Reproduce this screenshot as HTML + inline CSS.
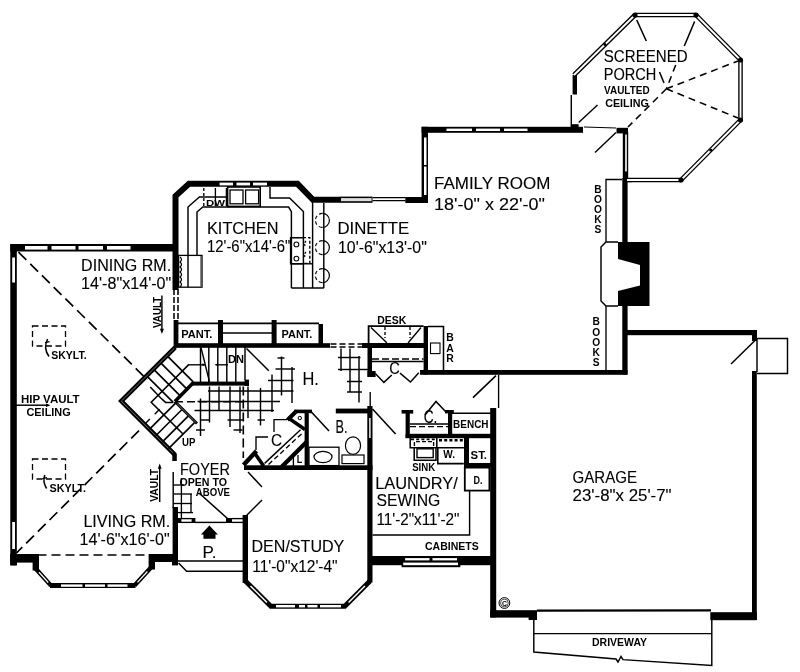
<!DOCTYPE html>
<html><head><meta charset="utf-8"><title>First Floor Plan</title>
<style>
html,body{margin:0;padding:0;background:#fff;}
body{width:800px;height:672px;overflow:hidden;}
svg{display:block;filter:grayscale(1);}
svg text{font-family:"Liberation Sans",sans-serif;fill:#000;}
</style></head><body>
<svg width="800" height="672" viewBox="0 0 800 672">
<rect x="0" y="0" width="800" height="672" fill="#fff"/>
<rect x="10.3" y="244" width="6.5" height="321" fill="#000"/>
<rect x="12.2" y="257.5" width="2.8" height="25.0" fill="#fff"/>
<rect x="12.2" y="522" width="2.8" height="27" fill="#fff"/>
<rect x="10.3" y="244" width="164.7" height="7.5" fill="#000"/>
<rect x="25" y="246" width="22.5" height="3.6" fill="#fff"/>
<rect x="51.5" y="246" width="24.0" height="3.6" fill="#fff"/>
<rect x="78.5" y="246" width="24.5" height="3.6" fill="#fff"/>
<rect x="107" y="246" width="23.5" height="3.6" fill="#fff"/>
<path d="M175.5,290 L175.5,196 L189,183.8 L297.5,183.8 L313,199.8 L340,199.8" fill="none" stroke="#000" stroke-width="6" stroke-linejoin="miter" stroke-linecap="butt"/>
<rect x="219.6" y="182.6" width="13.4" height="2.8" fill="#fff"/>
<rect x="236.5" y="182.6" width="13.5" height="2.8" fill="#fff"/>
<rect x="253" y="182.6" width="14" height="2.8" fill="#fff"/>
<rect x="339.7" y="196.6" width="32.8" height="6.2" fill="#000"/>
<rect x="341" y="198.1" width="30.6" height="3.1" fill="#ddd"/>
<line x1="372.5" y1="197.6" x2="405.5" y2="197.6" stroke="#000" stroke-width="1.45" stroke-linecap="butt"/>
<line x1="372.5" y1="200.6" x2="405.5" y2="200.6" stroke="#000" stroke-width="1.45" stroke-linecap="butt"/>
<rect x="405.3" y="197" width="22.7" height="6" fill="#000"/>
<rect x="421.6" y="126.8" width="6.4" height="76.2" fill="#000"/>
<rect x="424" y="137.5" width="2.5" height="27.5" fill="#fff"/>
<rect x="424" y="166.5" width="2.5" height="28.5" fill="#fff"/>
<rect x="421.6" y="126.8" width="161.4" height="6.0" fill="#000"/>
<rect x="572" y="124.2" width="6.6" height="2.8" fill="#000"/>
<rect x="627.5" y="178.6" width="4.5" height="3.6" fill="#000"/>
<rect x="446.5" y="128.6" width="25.5" height="2.4" fill="#fff"/>
<rect x="476" y="128.6" width="24" height="2.4" fill="#fff"/>
<rect x="504" y="128.6" width="23.5" height="2.4" fill="#fff"/>
<rect x="622.8" y="132" width="5.4" height="48" fill="#000"/>
<rect x="625.2" y="134.5" width="1.6" height="37.0" fill="#fff"/>
<rect x="616.5" y="127.8" width="11.5" height="5.6" fill="#000"/>
<rect x="622.3" y="178" width="5.3" height="64" fill="#000"/>
<rect x="622.3" y="306" width="5.3" height="68.5" fill="#000"/>
<polygon points="618,242 649.5,242 649.5,306 618,306 618,291 640,285.5 640,265 618,259" fill="#000"/>
<path d="M618,242 L606,242 L601,247 L601,301 L606,306 L618,306" fill="none" stroke="#000" stroke-width="1.45" stroke-linejoin="miter" stroke-linecap="butt"/>
<path d="M622,179.5 L606,179.5 L606,242" fill="none" stroke="#000" stroke-width="1.35" stroke-linejoin="miter" stroke-linecap="butt"/>
<line x1="606" y1="306" x2="606" y2="370" stroke="#000" stroke-width="1.35" stroke-linecap="butt"/>
<rect x="420" y="370" width="207.5" height="4.8" fill="#000"/>
<rect x="627" y="330" width="130" height="5.2" fill="#000"/>
<rect x="752" y="330" width="5" height="11" fill="#000"/>
<rect x="752" y="371" width="4.8" height="249" fill="#000"/>
<rect x="710.3" y="612.2" width="46.5" height="8.0" fill="#000"/>
<rect x="490.2" y="408" width="6.0" height="209.4" fill="#000"/>
<rect x="490.2" y="610.2" width="46.8" height="7.4" fill="#000"/>
<rect x="528.6" y="611.3" width="8.4" height="8.7" fill="#000"/>
<line x1="537" y1="610.6" x2="711" y2="610.4" stroke="#000" stroke-width="2.2" stroke-linecap="butt"/>
<path d="M533.8,620 L533.8,652 L616,659 L618,662 L621,656.5 L623,659.6 L711.8,665.5 L711.8,619" fill="none" stroke="#000" stroke-width="1.45" stroke-linejoin="miter" stroke-linecap="butt"/>
<line x1="533.8" y1="633.6" x2="711.8" y2="633.6" stroke="#000" stroke-width="1.45" stroke-linecap="butt"/>
<path d="M757,338.5 L787.5,338.5 L787.5,373.5 L757,373.5" fill="none" stroke="#000" stroke-width="1.45" stroke-linejoin="miter" stroke-linecap="butt"/>
<line x1="757" y1="338" x2="757" y2="372" stroke="#000" stroke-width="1.45" stroke-linecap="butt"/>
<line x1="731" y1="364" x2="755" y2="340.5" stroke="#000" stroke-width="1.55" stroke-linecap="butt"/>
<rect x="572.6" y="75" width="4.4" height="19.5" fill="#000"/>
<line x1="571.3" y1="95" x2="571.3" y2="127" stroke="#000" stroke-width="1.45" stroke-linecap="butt"/>
<line x1="574" y1="75" x2="635" y2="15" stroke="#000" stroke-width="4.6" stroke-linecap="butt"/>
<line x1="574" y1="75" x2="635" y2="15" stroke="#fff" stroke-width="1.9" stroke-linecap="butt"/>
<line x1="635" y1="15" x2="696" y2="15" stroke="#000" stroke-width="4.6" stroke-linecap="butt"/>
<line x1="635" y1="15" x2="696" y2="15" stroke="#fff" stroke-width="1.9" stroke-linecap="butt"/>
<line x1="696" y1="15" x2="740.5" y2="60" stroke="#000" stroke-width="4.6" stroke-linecap="butt"/>
<line x1="696" y1="15" x2="740.5" y2="60" stroke="#fff" stroke-width="1.9" stroke-linecap="butt"/>
<line x1="740.5" y1="60" x2="740.5" y2="120" stroke="#000" stroke-width="4.6" stroke-linecap="butt"/>
<line x1="740.5" y1="60" x2="740.5" y2="120" stroke="#fff" stroke-width="1.9" stroke-linecap="butt"/>
<line x1="740.5" y1="120" x2="681" y2="180" stroke="#000" stroke-width="4.6" stroke-linecap="butt"/>
<line x1="740.5" y1="120" x2="681" y2="180" stroke="#fff" stroke-width="1.9" stroke-linecap="butt"/>
<line x1="681" y1="180" x2="627" y2="180" stroke="#000" stroke-width="4.6" stroke-linecap="butt"/>
<line x1="681" y1="180" x2="627" y2="180" stroke="#fff" stroke-width="1.9" stroke-linecap="butt"/>
<circle cx="635" cy="15" r="2.6" fill="#000"/>
<circle cx="696" cy="15" r="2.6" fill="#000"/>
<circle cx="740.5" cy="60" r="2.6" fill="#000"/>
<circle cx="740.5" cy="120" r="2.6" fill="#000"/>
<circle cx="681" cy="180" r="2.6" fill="#000"/>
<circle cx="710.75" cy="150.0" r="1.6" fill="#000"/>
<circle cx="605" cy="44.5" r="1.5" fill="#000"/>
<line x1="694.6" y1="21.5" x2="684.3" y2="46" stroke="#000" stroke-width="1.55" stroke-linecap="butt"/>
<line x1="675.7" y1="65" x2="666.4" y2="88.8" stroke="#000" stroke-width="1.55" stroke-dasharray="7 5" stroke-linecap="butt"/>
<line x1="666.4" y1="88.8" x2="738" y2="61" stroke="#000" stroke-width="1.55" stroke-dasharray="7 5" stroke-linecap="butt"/>
<line x1="666.4" y1="88.8" x2="738" y2="118" stroke="#000" stroke-width="1.55" stroke-dasharray="7 5" stroke-linecap="butt"/>
<line x1="666.4" y1="88.8" x2="628" y2="127" stroke="#000" stroke-width="1.55" stroke-dasharray="7 5" stroke-linecap="butt"/>
<line x1="636.7" y1="20" x2="646.3" y2="41" stroke="#000" stroke-width="1.55" stroke-linecap="butt"/>
<line x1="659.5" y1="72" x2="664" y2="83" stroke="#000" stroke-width="1.55" stroke-linecap="butt"/>
<line x1="578.7" y1="122.5" x2="597.5" y2="105" stroke="#000" stroke-width="1.45" stroke-linecap="butt"/>
<line x1="595" y1="152.5" x2="616" y2="132.5" stroke="#000" stroke-width="1.45" stroke-linecap="butt"/>
<line x1="584" y1="127" x2="616" y2="128" stroke="#000" stroke-width="1.25" stroke-linecap="butt"/>
<rect x="173.6" y="320" width="4.8" height="27.5" fill="#000"/>
<rect x="174" y="343.2" width="156" height="4.6" fill="#000"/>
<line x1="176" y1="323.4" x2="319" y2="323.4" stroke="#000" stroke-width="1.8" stroke-linecap="butt"/>
<rect x="218" y="320" width="5" height="24" fill="#000"/>
<rect x="271.6" y="320" width="5.0" height="24" fill="#000"/>
<rect x="318.5" y="324" width="4.5" height="23" fill="#000"/>
<line x1="223" y1="333" x2="272" y2="333" stroke="#000" stroke-width="1.45" stroke-linecap="butt"/>
<line x1="174" y1="289" x2="174" y2="320.5" stroke="#000" stroke-width="1.55" stroke-dasharray="6 2" stroke-linecap="butt"/>
<line x1="178" y1="289" x2="178" y2="320.5" stroke="#000" stroke-width="1.55" stroke-dasharray="6 2" stroke-linecap="butt"/>
<line x1="330.5" y1="344" x2="362" y2="344" stroke="#000" stroke-width="1.45" stroke-dasharray="6 3" stroke-linecap="butt"/>
<line x1="330.5" y1="347" x2="362" y2="347" stroke="#000" stroke-width="1.45" stroke-dasharray="6 3" stroke-linecap="butt"/>
<rect x="362" y="343" width="66" height="5" fill="#000"/>
<rect x="423.6" y="326" width="4.4" height="48.5" fill="#000"/>
<rect x="367.5" y="343" width="4.5" height="34" fill="#000"/>
<rect x="367.5" y="371" width="8.1" height="6" fill="#000"/>
<path d="M368.6,343 L368.6,326.2 L423.6,326.2" fill="none" stroke="#000" stroke-width="1.8" stroke-linejoin="miter" stroke-linecap="butt"/>
<line x1="371" y1="327.5" x2="387" y2="343" stroke="#000" stroke-width="1.35" stroke-linecap="butt"/>
<line x1="421" y1="327.5" x2="408" y2="343" stroke="#000" stroke-width="1.35" stroke-linecap="butt"/>
<line x1="385" y1="327" x2="385" y2="338" stroke="#000" stroke-width="1.35" stroke-dasharray="3 2" stroke-linecap="butt"/>
<line x1="410" y1="327" x2="410" y2="338" stroke="#000" stroke-width="1.35" stroke-dasharray="3 2" stroke-linecap="butt"/>
<path d="M428,326.4 L443.5,326.4 L443.5,371" fill="none" stroke="#000" stroke-width="1.55" stroke-linejoin="miter" stroke-linecap="butt"/>
<rect x="430.5" y="343" width="9.5" height="10.6" fill="none" stroke="#000" stroke-width="1.1"/>
<line x1="372" y1="358.9" x2="423.6" y2="358.9" stroke="#000" stroke-width="1.45" stroke-dasharray="7 3" stroke-linecap="butt"/>
<line x1="372" y1="361.5" x2="423.6" y2="361.5" stroke="#000" stroke-width="1.35" stroke-linecap="butt"/>
<path d="M375.3,373.5 L383.9,382.4 L391.8,375" fill="none" stroke="#000" stroke-width="1.45" stroke-linejoin="miter" stroke-linecap="butt"/>
<path d="M400,373.1 L410.5,382.1 L418.8,372.8" fill="none" stroke="#000" stroke-width="1.45" stroke-linejoin="miter" stroke-linecap="butt"/>
<line x1="473" y1="397.6" x2="496" y2="375.6" stroke="#000" stroke-width="1.55" stroke-linecap="butt"/>
<line x1="498.6" y1="375" x2="498.6" y2="408" stroke="#000" stroke-width="1.35" stroke-linecap="butt"/>
<rect x="192" y="381.6" width="57" height="4.0" fill="#000"/>
<rect x="244.6" y="379.6" width="4.4" height="6.4" fill="#000"/>
<line x1="200.5" y1="347" x2="200.5" y2="382" stroke="#000" stroke-width="1.45" stroke-linecap="butt"/>
<line x1="208.8" y1="347" x2="208.8" y2="382" stroke="#000" stroke-width="1.45" stroke-linecap="butt"/>
<line x1="217.8" y1="347" x2="217.8" y2="382" stroke="#000" stroke-width="1.45" stroke-linecap="butt"/>
<line x1="226.8" y1="347" x2="226.8" y2="382" stroke="#000" stroke-width="1.45" stroke-linecap="butt"/>
<line x1="235.8" y1="347" x2="235.8" y2="382" stroke="#000" stroke-width="1.45" stroke-linecap="butt"/>
<line x1="245" y1="347" x2="245" y2="380" stroke="#000" stroke-width="1.45" stroke-linecap="butt"/>
<line x1="201" y1="347.5" x2="209.5" y2="382" stroke="#000" stroke-width="1.35" stroke-linecap="butt"/>
<line x1="189" y1="364.8" x2="205" y2="364.8" stroke="#000" stroke-width="1.35" stroke-linecap="butt"/>
<line x1="215.5" y1="364.8" x2="228" y2="364.8" stroke="#000" stroke-width="1.35" stroke-linecap="butt"/>
<polygon points="205.5,364.8 202.5,363.3 202.5,366.3" fill="#000"/>
<polygon points="215,364.8 218,363.3 218,366.3" fill="#000"/>
<line x1="246.5" y1="348.5" x2="268.8" y2="370.8" stroke="#000" stroke-width="1.55" stroke-linecap="butt"/>
<path d="M175.2,347.4 L121.3,401.1 L175,454.8" fill="none" stroke="#000" stroke-width="4.6" stroke-linejoin="miter" stroke-linecap="butt"/>
<path d="M174,348.6 L121.3,401.1 L173,452.8" fill="none" stroke="#777" stroke-width="0.9" stroke-linejoin="miter" stroke-linecap="butt"/>
<rect x="172.3" y="453.6" width="4.5" height="7.4" fill="#000"/>
<path d="M193,383 L174.9,401.4" fill="none" stroke="#000" stroke-width="3.6" stroke-linejoin="miter" stroke-linecap="butt"/>
<path d="M174.9,401.4 L197,423.6" fill="none" stroke="#000" stroke-width="2.8" stroke-linejoin="miter" stroke-linecap="butt"/>
<path d="M177,403.6 L196,422.6" fill="none" stroke="#999" stroke-width="0.7" stroke-linejoin="miter" stroke-linecap="butt"/>
<line x1="167.7" y1="356.3" x2="193.2" y2="381.8" stroke="#000" stroke-width="1.65" stroke-linecap="butt"/>
<line x1="160.95" y1="363.05" x2="186.45" y2="388.55" stroke="#000" stroke-width="1.65" stroke-linecap="butt"/>
<line x1="154.2" y1="369.8" x2="179.7" y2="395.3" stroke="#000" stroke-width="1.65" stroke-linecap="butt"/>
<line x1="147.45" y1="376.55" x2="172.95" y2="402.05" stroke="#000" stroke-width="1.65" stroke-linecap="butt"/>
<line x1="149.35000000000002" y1="429.35" x2="175.35000000000002" y2="403.35" stroke="#000" stroke-width="1.65" stroke-linecap="butt"/>
<line x1="155.75" y1="435.75" x2="181.75" y2="409.75" stroke="#000" stroke-width="1.65" stroke-linecap="butt"/>
<line x1="162.15000000000003" y1="442.15000000000003" x2="188.15000000000003" y2="416.15000000000003" stroke="#000" stroke-width="1.65" stroke-linecap="butt"/>
<line x1="168.55" y1="448.55" x2="194.55" y2="422.55" stroke="#000" stroke-width="1.65" stroke-linecap="butt"/>
<path d="M189,364.4 L151.2,402.3 L183,434" fill="none" stroke="#000" stroke-width="1.55" stroke-linejoin="miter" stroke-linecap="butt"/>
<path d="M150.2,387 L161,398.2 L165.6,402.4 L173.5,402.4" fill="none" stroke="#000" stroke-width="1.55" stroke-linejoin="miter" stroke-linecap="butt"/>
<line x1="145.4" y1="423.6" x2="149.8" y2="419.1" stroke="#000" stroke-width="1.45" stroke-linecap="butt"/>
<line x1="154.7" y1="414.2" x2="159.6" y2="409.3" stroke="#000" stroke-width="1.45" stroke-linecap="butt"/>
<line x1="277.5" y1="358" x2="284.5" y2="358" stroke="#000" stroke-width="1.45" stroke-linecap="butt"/>
<line x1="275.5" y1="369" x2="295" y2="369" stroke="#000" stroke-width="1.45" stroke-linecap="butt"/>
<line x1="268" y1="380.5" x2="293.5" y2="380.5" stroke="#000" stroke-width="1.45" stroke-linecap="butt"/>
<line x1="208" y1="391" x2="293.5" y2="391" stroke="#000" stroke-width="1.45" stroke-linecap="butt"/>
<line x1="197.5" y1="401.5" x2="280" y2="401.5" stroke="#000" stroke-width="1.45" stroke-linecap="butt"/>
<line x1="194.5" y1="410.5" x2="274" y2="410.5" stroke="#000" stroke-width="1.45" stroke-linecap="butt"/>
<line x1="200.5" y1="420" x2="209.5" y2="420" stroke="#000" stroke-width="1.45" stroke-linecap="butt"/>
<line x1="227.5" y1="420" x2="244" y2="420" stroke="#000" stroke-width="1.45" stroke-linecap="butt"/>
<line x1="257.5" y1="420" x2="265" y2="420" stroke="#000" stroke-width="1.45" stroke-linecap="butt"/>
<line x1="196" y1="430" x2="205" y2="430" stroke="#000" stroke-width="1.45" stroke-linecap="butt"/>
<line x1="233.5" y1="430" x2="242.5" y2="430" stroke="#000" stroke-width="1.45" stroke-linecap="butt"/>
<line x1="200.5" y1="398.5" x2="200.5" y2="436" stroke="#000" stroke-width="1.45" stroke-linecap="butt"/>
<line x1="209.5" y1="386.5" x2="209.5" y2="422.5" stroke="#000" stroke-width="1.45" stroke-linecap="butt"/>
<line x1="219" y1="386.5" x2="219" y2="410.5" stroke="#000" stroke-width="1.45" stroke-linecap="butt"/>
<line x1="230" y1="386.5" x2="230" y2="427" stroke="#000" stroke-width="1.45" stroke-linecap="butt"/>
<line x1="240" y1="386.5" x2="240" y2="433" stroke="#000" stroke-width="1.45" stroke-linecap="butt"/>
<line x1="248" y1="386.5" x2="248" y2="418" stroke="#000" stroke-width="1.45" stroke-linecap="butt"/>
<line x1="260.5" y1="388" x2="260.5" y2="425.5" stroke="#000" stroke-width="1.45" stroke-linecap="butt"/>
<line x1="272" y1="374.5" x2="272" y2="412" stroke="#000" stroke-width="1.45" stroke-linecap="butt"/>
<line x1="281.5" y1="356.5" x2="281.5" y2="395.5" stroke="#000" stroke-width="1.45" stroke-linecap="butt"/>
<line x1="292" y1="367" x2="292" y2="403" stroke="#000" stroke-width="1.45" stroke-linecap="butt"/>
<line x1="338" y1="357.5" x2="360.5" y2="357.5" stroke="#000" stroke-width="1.45" stroke-linecap="butt"/>
<line x1="338" y1="369.5" x2="368" y2="369.5" stroke="#000" stroke-width="1.45" stroke-linecap="butt"/>
<line x1="347" y1="381.5" x2="362" y2="381.5" stroke="#000" stroke-width="1.45" stroke-linecap="butt"/>
<line x1="347" y1="392" x2="362" y2="392" stroke="#000" stroke-width="1.45" stroke-linecap="butt"/>
<line x1="341" y1="348.5" x2="341" y2="371" stroke="#000" stroke-width="1.45" stroke-linecap="butt"/>
<line x1="350" y1="348.5" x2="350" y2="392" stroke="#000" stroke-width="1.45" stroke-linecap="butt"/>
<line x1="359" y1="356" x2="359" y2="402.5" stroke="#000" stroke-width="1.45" stroke-linecap="butt"/>
<line x1="175" y1="401.8" x2="243" y2="401.8" stroke="#000" stroke-width="1.55" stroke-dasharray="8 4" stroke-linecap="butt"/>
<line x1="243.3" y1="386.5" x2="243.3" y2="458" stroke="#000" stroke-width="1.6" stroke-dasharray="9 4" stroke-linecap="butt"/>
<rect x="244" y="465.3" width="128.5" height="4.7" fill="#000"/>
<rect x="367.3" y="406" width="5.2" height="176.5" fill="#000"/>
<rect x="369.2" y="418" width="1.4" height="20" fill="#fff"/>
<rect x="335.8" y="408.6" width="35.2" height="4.8" fill="#000"/>
<line x1="370.2" y1="392" x2="370.2" y2="410" stroke="#000" stroke-width="1.35" stroke-linecap="butt"/>
<line x1="310" y1="410.5" x2="329" y2="431" stroke="#000" stroke-width="1.55" stroke-linecap="butt"/>
<rect x="304.6" y="410" width="4.2" height="56" fill="#000"/>
<rect x="294.3" y="409.6" width="17.7" height="3.6" fill="#000"/>
<line x1="296.5" y1="411" x2="287.5" y2="420" stroke="#000" stroke-width="4" stroke-linecap="butt"/>
<line x1="288.4" y1="418" x2="305" y2="429.5" stroke="#000" stroke-width="3.4" stroke-linecap="butt"/>
<circle cx="299.8" cy="418" r="1.7" fill="#fff" stroke="#000" stroke-width="1"/>
<line x1="264.6" y1="463.4" x2="300.5" y2="429.8" stroke="#000" stroke-width="1.45" stroke-linecap="butt"/>
<line x1="268.5" y1="464.5" x2="302" y2="433.5" stroke="#000" stroke-width="1.35" stroke-dasharray="5 3" stroke-linecap="butt"/>
<line x1="281.5" y1="467" x2="306.5" y2="442" stroke="#000" stroke-width="4.2" stroke-linecap="butt"/>
<line x1="243.5" y1="465" x2="256.5" y2="451" stroke="#000" stroke-width="4.4" stroke-linecap="butt"/>
<line x1="254.2" y1="452.5" x2="263.6" y2="466" stroke="#000" stroke-width="3.6" stroke-linecap="butt"/>
<path d="M287,419.6 L274,419.6 L274,432" fill="none" stroke="#000" stroke-width="1.35" stroke-linejoin="miter" stroke-linecap="butt"/>
<path d="M268,437 L256,437 L256,450" fill="none" stroke="#000" stroke-width="1.35" stroke-linejoin="miter" stroke-linecap="butt"/>
<line x1="293.4" y1="455" x2="293.4" y2="466" stroke="#000" stroke-width="1.35" stroke-linecap="butt"/>
<rect x="309" y="447.2" width="30" height="18.4" fill="none" stroke="#000" stroke-width="1.3"/>
<ellipse cx="323" cy="457" rx="9" ry="5.6" fill="none" stroke="#000" stroke-width="1.2"/>
<rect x="342" y="455" width="22" height="8.6" fill="none" stroke="#000" stroke-width="1.2"/>
<ellipse cx="353" cy="445.6" rx="7.6" ry="8.8" fill="#fff" stroke="#000" stroke-width="1.2"/>
<line x1="372.5" y1="409" x2="395.6" y2="434" stroke="#000" stroke-width="1.55" stroke-linecap="butt"/>
<rect x="405.6" y="410" width="4.2" height="28" fill="#000"/>
<rect x="401.6" y="410" width="11.6" height="3.6" fill="#000"/>
<rect x="405.6" y="433.8" width="85.4" height="4.4" fill="#000"/>
<rect x="448" y="410" width="4.2" height="28" fill="#000"/>
<rect x="445" y="410" width="8.8" height="3.4" fill="#000"/>
<line x1="452" y1="413.2" x2="491" y2="413.2" stroke="#000" stroke-width="1.55" stroke-linecap="butt"/>
<path d="M425,415 L436,401.5 L445.5,411.5" fill="none" stroke="#000" stroke-width="1.55" stroke-linejoin="miter" stroke-linecap="butt"/>
<line x1="410" y1="424" x2="448" y2="424" stroke="#000" stroke-width="1.35" stroke-linecap="butt"/>
<line x1="410" y1="426.6" x2="448" y2="426.6" stroke="#000" stroke-width="1.45" stroke-dasharray="6 3" stroke-linecap="butt"/>
<path d="M410.2,438 L410.2,447.8 L463.9,447.8" fill="none" stroke="#000" stroke-width="1.5" stroke-linejoin="miter" stroke-linecap="butt"/>
<line x1="436.8" y1="438" x2="436.8" y2="447.8" stroke="#000" stroke-width="1.55" stroke-linecap="butt"/>
<path d="M414.4,446 L414.4,441.6 L433.6,441.6 L433.6,446" fill="none" stroke="#000" stroke-width="1.35" stroke-linejoin="miter" stroke-linecap="butt" stroke-dasharray="4 2"/>
<path d="M414.2,447.8 L414.2,460.2 L436,460.2 L436,447.8" fill="none" stroke="#000" stroke-width="1.55" stroke-linejoin="miter" stroke-linecap="butt"/>
<rect x="417" y="448.8" width="16.2" height="8.8" fill="none" stroke="#000" stroke-width="1.4"/>
<path d="M437.8,447.8 L437.8,463.6 L463.8,463.6" fill="none" stroke="#000" stroke-width="1.6" stroke-linejoin="miter" stroke-linecap="butt"/>
<line x1="439" y1="440.2" x2="464" y2="440.2" stroke="#000" stroke-width="2.4" stroke-dasharray="3 2.2" stroke-linecap="butt"/>
<line x1="411" y1="439.4" x2="436" y2="439.4" stroke="#000" stroke-width="1.6" stroke-dasharray="3 2.2" stroke-linecap="butt"/>
<rect x="464" y="438" width="5" height="29" fill="#000"/>
<rect x="464" y="463" width="27" height="4.4" fill="#000"/>
<rect x="464.8" y="467.6" width="24.6" height="23" fill="none" stroke="#000" stroke-width="1.8"/>
<path d="M469.6,491 L469.6,535 L372.5,535" fill="none" stroke="#000" stroke-width="1.45" stroke-linejoin="miter" stroke-linecap="butt"/>
<rect x="372" y="556" width="119" height="9.2" fill="#000"/>
<rect x="401.6" y="556" width="58.8" height="11.2" fill="#000"/>
<rect x="405.1" y="558.1" width="24.4" height="2.3" fill="#fff"/>
<rect x="432.5" y="558.1" width="24.5" height="2.3" fill="#fff"/>
<rect x="403.2" y="562.6" width="54.8" height="2.6" fill="#fff"/>
<rect x="242.6" y="515" width="5.4" height="68" fill="#000"/>
<path d="M245.4,581 L270.8,606.2 L344.8,606.2 L370,581" fill="none" stroke="#000" stroke-width="5" stroke-linejoin="miter" stroke-linecap="butt"/>
<rect x="276" y="605" width="19" height="2.4" fill="#fff"/>
<rect x="299" y="605" width="6" height="2.4" fill="#fff"/>
<rect x="307.5" y="605" width="10.0" height="2.4" fill="#fff"/>
<rect x="320" y="605" width="21" height="2.4" fill="#fff"/>
<line x1="250.48000000000002" y1="586.04" x2="266.99" y2="602.4200000000001" stroke="#fff" stroke-width="1.5" stroke-linecap="butt"/>
<line x1="348.58" y1="602.4200000000001" x2="364.96" y2="586.04" stroke="#fff" stroke-width="1.5" stroke-linecap="butt"/>
<line x1="248" y1="472" x2="262" y2="487" stroke="#000" stroke-width="1.45" stroke-linecap="butt"/>
<line x1="262" y1="500" x2="246" y2="516" stroke="#000" stroke-width="1.45" stroke-linecap="butt"/>
<line x1="173.2" y1="472" x2="173.2" y2="508" stroke="#000" stroke-width="1.45" stroke-linecap="butt"/>
<rect x="172.6" y="507" width="5.4" height="58" fill="#000"/>
<rect x="178" y="518" width="3.4" height="5" fill="#000"/>
<rect x="191.6" y="518" width="3.8" height="5" fill="#000"/>
<rect x="226" y="518" width="6" height="5" fill="#000"/>
<line x1="181" y1="518.6" x2="192" y2="518.6" stroke="#000" stroke-width="1.35" stroke-linecap="butt"/>
<line x1="181" y1="522.4" x2="192" y2="522.4" stroke="#000" stroke-width="1.35" stroke-linecap="butt"/>
<line x1="232" y1="518.6" x2="243" y2="518.6" stroke="#000" stroke-width="1.35" stroke-linecap="butt"/>
<line x1="232" y1="522.4" x2="243" y2="522.4" stroke="#000" stroke-width="1.35" stroke-linecap="butt"/>
<line x1="195" y1="522.4" x2="226" y2="522.4" stroke="#000" stroke-width="1.45" stroke-linecap="butt"/>
<line x1="199" y1="493" x2="228" y2="519" stroke="#000" stroke-width="1.55" stroke-linecap="butt"/>
<polygon points="209.4,525.5 217.9,534.4 215.5,534.4 215.5,538.8 203.4,538.8 203.4,534.4 200.9,534.4" fill="#000"/>
<line x1="181.4" y1="478" x2="181.4" y2="518" stroke="#000" stroke-width="1.35" stroke-linecap="butt"/>
<line x1="191" y1="494" x2="191" y2="512" stroke="#000" stroke-width="1.35" stroke-linecap="butt"/>
<line x1="173.5" y1="485" x2="184" y2="485" stroke="#000" stroke-width="1.35" stroke-linecap="butt"/>
<line x1="173.5" y1="494" x2="192" y2="494" stroke="#000" stroke-width="1.35" stroke-linecap="butt"/>
<line x1="173.5" y1="503.5" x2="192" y2="503.5" stroke="#000" stroke-width="1.35" stroke-linecap="butt"/>
<line x1="178" y1="512.6" x2="193" y2="512.6" stroke="#000" stroke-width="1.35" stroke-linecap="butt"/>
<line x1="178" y1="560.9" x2="243" y2="560.9" stroke="#000" stroke-width="1.55" stroke-linecap="butt"/>
<path d="M178.6,563 L186.6,571.2 L243,571.2" fill="none" stroke="#000" stroke-width="1.45" stroke-linejoin="miter" stroke-linecap="butt"/>
<rect x="10.3" y="554" width="27.2" height="8.6" fill="#000"/>
<rect x="10.3" y="554" width="6.5" height="11.6" fill="#000"/>
<rect x="32.6" y="554" width="6.4" height="16.5" fill="#000"/>
<rect x="149" y="554" width="29" height="8" fill="#000"/>
<rect x="172" y="554" width="6" height="11.4" fill="#000"/>
<rect x="148.6" y="554" width="6.4" height="15.5" fill="#000"/>
<line x1="35.6" y1="568.5" x2="51" y2="585.6" stroke="#000" stroke-width="4.4" stroke-linecap="butt"/>
<line x1="50" y1="585.6" x2="135.5" y2="585.6" stroke="#000" stroke-width="5" stroke-linecap="butt"/>
<line x1="134.5" y1="585.6" x2="151" y2="567.5" stroke="#000" stroke-width="4.4" stroke-linecap="butt"/>
<rect x="61" y="584.4" width="21.5" height="2.4" fill="#fff"/>
<rect x="85" y="584.4" width="20" height="2.4" fill="#fff"/>
<rect x="107.5" y="584.4" width="20.0" height="2.4" fill="#fff"/>
<line x1="38.988" y1="572.2620000000001" x2="48.228" y2="582.522" stroke="#fff" stroke-width="1.2" stroke-linecap="butt"/>
<line x1="137.47" y1="582.342" x2="147.37" y2="571.482" stroke="#fff" stroke-width="1.2" stroke-linecap="butt"/>
<line x1="37.5" y1="555" x2="149" y2="555" stroke="#000" stroke-width="1.45" stroke-dasharray="9 5" stroke-linecap="butt"/>
<path d="M188,255.5 L188,207 L199.4,197 L227.5,197" fill="none" stroke="#000" stroke-width="1.45" stroke-linejoin="miter" stroke-linecap="butt"/>
<path d="M197,255.5 L197,212 L202.8,207 L288.6,207 L291.4,211.6 L291.4,288" fill="none" stroke="#000" stroke-width="1.45" stroke-linejoin="miter" stroke-linecap="butt"/>
<path d="M270,187 L270,198 L289.6,198 L303.4,211.6 L303.4,288" fill="none" stroke="#000" stroke-width="1.45" stroke-linejoin="miter" stroke-linecap="butt"/>
<line x1="312.6" y1="202" x2="312.6" y2="288" stroke="#000" stroke-width="1.45" stroke-linecap="butt"/>
<line x1="323.8" y1="203" x2="323.8" y2="288" stroke="#000" stroke-width="1.45" stroke-linecap="butt"/>
<line x1="291.4" y1="288" x2="323.8" y2="288" stroke="#000" stroke-width="1.45" stroke-linecap="butt"/>
<line x1="203.8" y1="188" x2="203.8" y2="206" stroke="#000" stroke-width="1.35" stroke-dasharray="3 2" stroke-linecap="butt"/>
<line x1="215.4" y1="188" x2="215.4" y2="206" stroke="#000" stroke-width="1.35" stroke-linecap="butt"/>
<line x1="226.4" y1="188" x2="226.4" y2="206" stroke="#000" stroke-width="1.35" stroke-linecap="butt"/>
<rect x="227.6" y="187" width="32.6" height="19.4" fill="none" stroke="#000" stroke-width="1.6"/>
<rect x="230" y="190" width="13" height="13.8" fill="none" stroke="#000" stroke-width="1.3"/>
<rect x="245.6" y="190" width="13" height="13.8" fill="none" stroke="#000" stroke-width="1.3"/>
<rect x="178.6" y="255.4" width="23.4" height="31.8" fill="none" stroke="#000" stroke-width="1.3"/>
<line x1="188" y1="255.4" x2="188" y2="287" stroke="#000" stroke-width="1.45" stroke-linecap="butt"/>
<line x1="201.4" y1="256" x2="201.4" y2="287" stroke="#555" stroke-width="2.2" stroke-linecap="butt"/>
<path d="M180,257 q3,2.5 0,5 q3,2.5 0,5 q3,2.5 0,5 q3,2.5 0,5 q3,2.5 0,5 q3,2.5 0,5" fill="none" stroke="#000" stroke-width="1.25" stroke-linejoin="miter" stroke-linecap="butt"/>
<path d="M303,237.8 L290.6,237.8 L290.6,263.8 L303,263.8" fill="none" stroke="#000" stroke-width="1.45" stroke-linejoin="miter" stroke-linecap="butt"/>
<path d="M303,237.6 L309.8,237.6 L309.8,263.4 L303,263.4" fill="none" stroke="#000" stroke-width="1.35" stroke-linejoin="miter" stroke-linecap="butt" stroke-dasharray="3 2"/>
<circle cx="296.4" cy="244.4" r="2.4" fill="none" stroke="#000" stroke-width="1.1"/>
<circle cx="296.4" cy="258.6" r="2.4" fill="none" stroke="#000" stroke-width="1.1"/>
<path d="M306,241 q-3,3 0,6 M306,252 q-3,3 0,6" fill="none" stroke="#000" stroke-width="1.25" stroke-linejoin="miter" stroke-linecap="butt" stroke-dasharray="2 1.5"/>
<line x1="291.4" y1="263.8" x2="312.6" y2="263.8" stroke="#000" stroke-width="1.35" stroke-linecap="butt"/>
<path d="M322.4,213.4 a7,7 0 0 1 0,14" fill="none" stroke="#000" stroke-width="1.2"/>
<path d="M322.4,213.4 a7,7 0 0 0 0,14" fill="none" stroke="#000" stroke-width="1.1" stroke-dasharray="3.5 2.5"/>
<path d="M322.4,240.6 a7,7 0 0 1 0,14" fill="none" stroke="#000" stroke-width="1.2"/>
<path d="M322.4,240.6 a7,7 0 0 0 0,14" fill="none" stroke="#000" stroke-width="1.1" stroke-dasharray="3.5 2.5"/>
<path d="M322.4,268.6 a7,7 0 0 1 0,14" fill="none" stroke="#000" stroke-width="1.2"/>
<path d="M322.4,268.6 a7,7 0 0 0 0,14" fill="none" stroke="#000" stroke-width="1.1" stroke-dasharray="3.5 2.5"/>
<line x1="18.5" y1="252.2" x2="147.5" y2="380" stroke="#000" stroke-width="1.7" stroke-dasharray="11 5.5" stroke-linecap="butt"/>
<line x1="139" y1="430.6" x2="16.5" y2="553" stroke="#000" stroke-width="1.7" stroke-dasharray="11 5.5" stroke-linecap="butt"/>
<rect x="32.5" y="326" width="33" height="20" fill="none" stroke="#000" stroke-width="1.3" stroke-dasharray="6 3.5"/>
<rect x="32.5" y="459" width="33" height="20" fill="none" stroke="#000" stroke-width="1.3" stroke-dasharray="6 3.5"/>
<path d="M47.6,339 Q43,348 49,356.5" fill="none" stroke="#000" stroke-width="1.55" stroke-linejoin="miter" stroke-linecap="butt"/>
<line x1="45" y1="342.6" x2="49.6" y2="341.6" stroke="#000" stroke-width="1.45" stroke-linecap="butt"/>
<path d="M44.8,475 Q42.4,482 46.6,488.5" fill="none" stroke="#000" stroke-width="1.55" stroke-linejoin="miter" stroke-linecap="butt"/>
<line x1="42.4" y1="478.6" x2="47" y2="477.6" stroke="#000" stroke-width="1.45" stroke-linecap="butt"/>
<line x1="16" y1="405.2" x2="48" y2="405.2" stroke="#000" stroke-width="1.45" stroke-linecap="butt"/>
<polygon points="50.5,405.2 46,403.4 46,407" fill="#000"/>
<line x1="161.9" y1="295.5" x2="161.9" y2="329.5" stroke="#000" stroke-width="1.45" stroke-linecap="butt"/>
<polygon points="161.9,334 159.9,328.8 163.9,328.8" fill="#000"/>
<line x1="159.7" y1="468" x2="159.7" y2="502" stroke="#000" stroke-width="1.45" stroke-linecap="butt"/>
<polygon points="159.7,463.6 157.8,468.8 161.6,468.8" fill="#000"/>
<text x="81.1" y="271.3" font-size="16.2" stroke="#000" stroke-width="0.12" textLength="90.0" lengthAdjust="spacingAndGlyphs" text-anchor="start" stroke="#000" stroke-width="0.3">DINING RM.</text>
<text x="81.1" y="289" font-size="16.8" stroke="#000" stroke-width="0.12" textLength="90.2" lengthAdjust="spacingAndGlyphs" text-anchor="start" stroke="#000" stroke-width="0.3">14'-8&quot;x14'-0&quot;</text>
<text x="207" y="233.5" font-size="15.6" stroke="#000" stroke-width="0.12" textLength="71.5" lengthAdjust="spacingAndGlyphs" text-anchor="start" stroke="#000" stroke-width="0.3">KITCHEN</text>
<text x="207" y="252.3" font-size="16.8" stroke="#000" stroke-width="0.12" textLength="83.3" lengthAdjust="spacingAndGlyphs" text-anchor="start" stroke="#000" stroke-width="0.3">12'-6&quot;x14'-6&quot;</text>
<text x="337.4" y="234" font-size="15.8" stroke="#000" stroke-width="0.12" textLength="71.8" lengthAdjust="spacingAndGlyphs" text-anchor="start" stroke="#000" stroke-width="0.3">DINETTE</text>
<text x="338" y="252.6" font-size="16.6" stroke="#000" stroke-width="0.12" textLength="88.8" lengthAdjust="spacingAndGlyphs" text-anchor="start" stroke="#000" stroke-width="0.3">10'-6&quot;x13'-0&quot;</text>
<text x="434" y="189.2" font-size="15.8" stroke="#000" stroke-width="0.12" textLength="116.3" lengthAdjust="spacingAndGlyphs" text-anchor="start" stroke="#000" stroke-width="0.4">FAMILY ROOM</text>
<text x="434" y="210" font-size="16.8" stroke="#000" stroke-width="0.12" textLength="110.8" lengthAdjust="spacingAndGlyphs" text-anchor="start" stroke="#000" stroke-width="0.4">18'-0&quot; x 22'-0&quot;</text>
<text x="603.8" y="62.2" font-size="17" stroke="#000" stroke-width="0.12" textLength="83.8" lengthAdjust="spacingAndGlyphs" text-anchor="start" stroke="#000" stroke-width="0.4">SCREENED</text>
<text x="603.8" y="79.7" font-size="17" stroke="#000" stroke-width="0.12" textLength="52.6" lengthAdjust="spacingAndGlyphs" text-anchor="start" stroke="#000" stroke-width="0.4">PORCH</text>
<text x="604.1" y="94.2" font-size="10.9" font-weight="bold" textLength="45.5" lengthAdjust="spacingAndGlyphs" text-anchor="start">VAULTED</text>
<text x="605.2" y="106.6" font-size="10.9" font-weight="bold" textLength="43.6" lengthAdjust="spacingAndGlyphs" text-anchor="start">CEILING</text>
<text x="572.6" y="483.2" font-size="16" stroke="#000" stroke-width="0.12" textLength="64.4" lengthAdjust="spacingAndGlyphs" text-anchor="start" stroke="#000" stroke-width="0.4">GARAGE</text>
<text x="572.6" y="500.8" font-size="16.6" stroke="#000" stroke-width="0.12" textLength="99.0" lengthAdjust="spacingAndGlyphs" text-anchor="start" stroke="#000" stroke-width="0.4">23'-8&quot;x 25'-7&quot;</text>
<text x="375.2" y="489.2" font-size="16.2" stroke="#000" stroke-width="0.12" textLength="82.6" lengthAdjust="spacingAndGlyphs" text-anchor="start" stroke="#000" stroke-width="0.4">LAUNDRY/</text>
<text x="376.4" y="505.8" font-size="16.2" stroke="#000" stroke-width="0.12" textLength="63.9" lengthAdjust="spacingAndGlyphs" text-anchor="start" stroke="#000" stroke-width="0.4">SEWING</text>
<text x="376.4" y="525.4" font-size="16.8" stroke="#000" stroke-width="0.12" textLength="83.1" lengthAdjust="spacingAndGlyphs" text-anchor="start" stroke="#000" stroke-width="0.4">11'-2&quot;x11'-2&quot;</text>
<text x="251.5" y="551.8" font-size="16.2" stroke="#000" stroke-width="0.12" textLength="92.8" lengthAdjust="spacingAndGlyphs" text-anchor="start" stroke="#000" stroke-width="0.4">DEN/STUDY</text>
<text x="252.2" y="571.8" font-size="16.8" stroke="#000" stroke-width="0.12" textLength="85.4" lengthAdjust="spacingAndGlyphs" text-anchor="start" stroke="#000" stroke-width="0.35">11'-0&quot;x12'-4&quot;</text>
<text x="83.4" y="526.6" font-size="16.3" stroke="#000" stroke-width="0.12" textLength="86.8" lengthAdjust="spacingAndGlyphs" text-anchor="start" stroke="#000" stroke-width="0.35">LIVING RM.</text>
<text x="79.6" y="545.4" font-size="16.8" stroke="#000" stroke-width="0.12" textLength="90.0" lengthAdjust="spacingAndGlyphs" text-anchor="start" stroke="#000" stroke-width="0.35">14'-6&quot;x16'-0&quot;</text>
<text x="180" y="475.4" font-size="17" stroke="#000" stroke-width="0.12" textLength="50" lengthAdjust="spacingAndGlyphs" text-anchor="start" stroke="#000" stroke-width="0.7">FOYER</text>
<text x="179.4" y="485.8" font-size="10.6" font-weight="bold" textLength="47.6" lengthAdjust="spacingAndGlyphs" text-anchor="start">OPEN TO</text>
<text x="195.8" y="496.2" font-size="10.6" font-weight="bold" textLength="34.2" lengthAdjust="spacingAndGlyphs" text-anchor="start">ABOVE</text>
<text x="202.6" y="558.4" font-size="17" stroke="#000" stroke-width="0.12" text-anchor="start" stroke="#000" stroke-width="0.4">P.</text>
<text x="302.4" y="385.2" font-size="17.5" stroke="#000" stroke-width="0.12" textLength="16.4" lengthAdjust="spacingAndGlyphs" text-anchor="start" stroke="#000" stroke-width="0.8">H.</text>
<text x="335.6" y="433.4" font-size="17.5" stroke="#000" stroke-width="0.12" textLength="12.0" lengthAdjust="spacingAndGlyphs" text-anchor="start" stroke="#000" stroke-width="0.7">B.</text>
<text x="271" y="445.8" font-size="17" stroke="#000" stroke-width="0.12" textLength="11.1" lengthAdjust="spacingAndGlyphs" text-anchor="start" stroke="#000" stroke-width="0.35">C</text>
<text x="389.2" y="374.3" font-size="17" stroke="#000" stroke-width="0.12" textLength="10.6" lengthAdjust="spacingAndGlyphs" text-anchor="start" stroke="#000" stroke-width="0.35">C</text>
<text x="423.8" y="422.6" font-size="17.5" stroke="#000" stroke-width="0.12" textLength="13.6" lengthAdjust="spacingAndGlyphs" text-anchor="start" stroke="#000" stroke-width="0.35">C.</text>
<text x="296.7" y="462.6" font-size="10.4" font-weight="bold" textLength="5.5" lengthAdjust="spacingAndGlyphs" text-anchor="start">L</text>
<text x="181.2" y="337.8" font-size="10.8" font-weight="bold" textLength="31.2" lengthAdjust="spacingAndGlyphs" text-anchor="start">PANT.</text>
<text x="281.6" y="337.8" font-size="10.8" font-weight="bold" textLength="30.8" lengthAdjust="spacingAndGlyphs" text-anchor="start">PANT.</text>
<text x="228" y="362.8" font-size="10.8" font-weight="bold" textLength="16" lengthAdjust="spacingAndGlyphs" text-anchor="start">DN</text>
<text x="182" y="446" font-size="11.2" font-weight="bold" textLength="13.4" lengthAdjust="spacingAndGlyphs" text-anchor="start">UP</text>
<text x="206" y="206" font-size="8.8" font-weight="bold" textLength="19" lengthAdjust="spacingAndGlyphs" text-anchor="start">DW</text>
<text x="377.2" y="323.9" font-size="10.8" font-weight="bold" textLength="29.0" lengthAdjust="spacingAndGlyphs" text-anchor="start">DESK</text>
<text x="450" y="341.4" font-size="10.4" font-weight="bold" text-anchor="middle">B</text>
<text x="450" y="352" font-size="10.4" font-weight="bold" text-anchor="middle">A</text>
<text x="450" y="362" font-size="10.4" font-weight="bold" text-anchor="middle">R</text>
<text x="598" y="192.5" font-size="10.2" font-weight="bold" text-anchor="middle">B</text>
<text x="598" y="202.8" font-size="10.2" font-weight="bold" text-anchor="middle">O</text>
<text x="598" y="213" font-size="10.2" font-weight="bold" text-anchor="middle">O</text>
<text x="598" y="223.3" font-size="10.2" font-weight="bold" text-anchor="middle">K</text>
<text x="598" y="233.1" font-size="10.2" font-weight="bold" text-anchor="middle">S</text>
<text x="596.2" y="324.5" font-size="10.2" font-weight="bold" text-anchor="middle">B</text>
<text x="596.2" y="336" font-size="10.2" font-weight="bold" text-anchor="middle">O</text>
<text x="596.2" y="346" font-size="10.2" font-weight="bold" text-anchor="middle">O</text>
<text x="596.2" y="356" font-size="10.2" font-weight="bold" text-anchor="middle">K</text>
<text x="596.2" y="366" font-size="10.2" font-weight="bold" text-anchor="middle">S</text>
<text x="453.1" y="427.8" font-size="11.4" font-weight="bold" textLength="35.5" lengthAdjust="spacingAndGlyphs" text-anchor="start">BENCH</text>
<text x="443.3" y="458.4" font-size="10.2" font-weight="bold" textLength="11.7" lengthAdjust="spacingAndGlyphs" text-anchor="start">W.</text>
<text x="470.6" y="459" font-size="11" font-weight="bold" textLength="16.4" lengthAdjust="spacingAndGlyphs" text-anchor="start">ST.</text>
<text x="473.6" y="483.8" font-size="10.6" font-weight="bold" textLength="9.0" lengthAdjust="spacingAndGlyphs" text-anchor="start">D.</text>
<text x="412.2" y="471" font-size="10.2" font-weight="bold" textLength="23.0" lengthAdjust="spacingAndGlyphs" text-anchor="start">SINK</text>
<text x="425" y="549.7" font-size="11.5" font-weight="bold" textLength="53.8" lengthAdjust="spacingAndGlyphs" text-anchor="start">CABINETS</text>
<text x="592" y="645.5" font-size="10.3" font-weight="bold" textLength="55" lengthAdjust="spacingAndGlyphs" text-anchor="start">DRIVEWAY</text>
<text x="21" y="402.5" font-size="10.9" font-weight="bold" textLength="58.6" lengthAdjust="spacingAndGlyphs" text-anchor="start">HIP VAULT</text>
<text x="26.5" y="415.5" font-size="10.9" font-weight="bold" textLength="44.1" lengthAdjust="spacingAndGlyphs" text-anchor="start">CEILING</text>
<text x="51.2" y="359.4" font-size="11.2" font-weight="bold" textLength="35.4" lengthAdjust="spacingAndGlyphs" text-anchor="start">SKYLT.</text>
<text x="49.5" y="492.2" font-size="11.2" font-weight="bold" textLength="36.5" lengthAdjust="spacingAndGlyphs" text-anchor="start">SKYLT.</text>
<text transform="translate(160.6,328) rotate(-90)" font-size="11" font-weight="bold" textLength="31.2" lengthAdjust="spacingAndGlyphs">VAULT</text>
<text transform="translate(158.4,501.8) rotate(-90)" font-size="11" font-weight="bold" textLength="32.8" lengthAdjust="spacingAndGlyphs">VAULT</text>
<circle cx="504.4" cy="603" r="5.4" fill="none" stroke="#000" stroke-width="1"/>
<circle cx="504.4" cy="603" r="3.9" fill="none" stroke="#000" stroke-width="0.7"/>
<text x="504.4" y="605.6" font-size="6.9" font-weight="bold" text-anchor="middle">C</text>
</svg>
</body></html>
